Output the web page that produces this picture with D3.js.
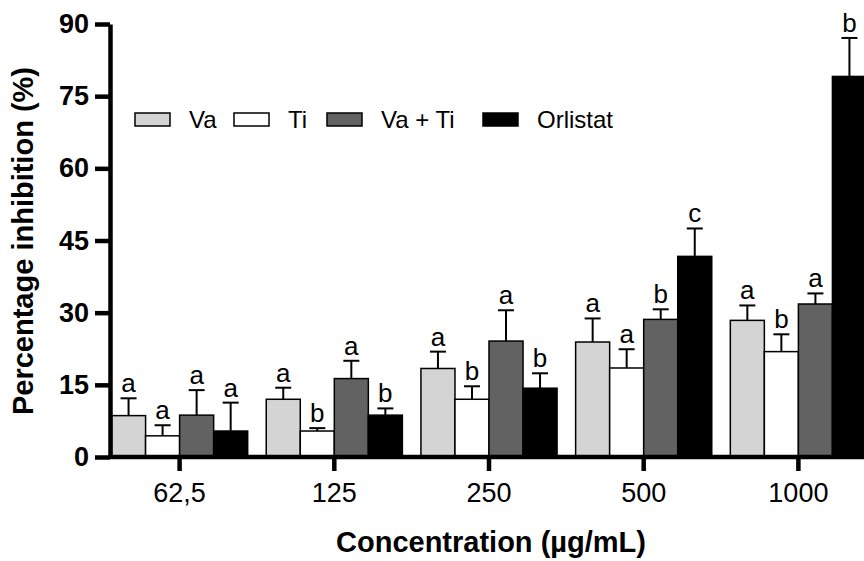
<!DOCTYPE html>
<html lang="en">
<head>
  <meta charset="UTF-8" />
  <title>Percentage inhibition</title>
  <style>
    body { margin: 0; background: #fff; }
    #container { width: 864px; height: 561px; }
    text { font-family: "Liberation Sans", Arial, sans-serif; }
  </style>
</head>
<body>
  <div id="container"></div>
  <script src="https://cdn.jsdelivr.net/npm/d3@7"></script>
  <script>
    // data
    const concentrations = ["62,5", "125", "250", "500", "1000"];
    const seriesNames = ["Va", "Ti", "Va + Ti", "Orlistat"];
    const vaMean = [8.6, 12.0, 18.4, 23.9, 28.4];
    const vaErr = [3.6, 2.4, 3.5, 4.9, 3.1];
    const tiMean = [4.4, 5.4, 12.0, 18.5, 21.9];
    const tiErr = [2.2, 0.6, 2.7, 3.9, 3.6];
    const vatiMean = [8.7, 16.3, 24.1, 28.6, 31.8];
    const vatiErr = [5.2, 3.7, 6.4, 2.1, 2.2];
    const orlMean = [5.4, 8.7, 14.3, 41.7, 79.1];
    const orlErr = [5.9, 1.4, 3.1, 5.8, 8.0];
    const vaLetters = ["a", "a", "a", "a", "a"];
    const tiLetters = ["a", "b", "b", "a", "b"];
    const vatiLetters = ["a", "a", "a", "b", "a"];
    const orlLetters = ["a", "b", "b", "c", "b"];
    const yTicks = [0, 15, 30, 45, 60, 75, 90];

    const fills = ["#d4d4d4", "#ffffff", "#626262", "#000000"];
    const means = [vaMean, tiMean, vatiMean, orlMean];
    const errs = [vaErr, tiErr, vatiErr, orlErr];
    const letters = [vaLetters, tiLetters, vatiLetters, orlLetters];

    const W = 864, H = 561;
    const svg = d3.select("#container").append("svg")
      .attr("width", W).attr("height", H);

    const y = d3.scaleLinear().domain([0, 90]).range([457, 24]);
    const x0 = d3.scaleBand().domain(concentrations)
      .range([110, 868]).paddingInner(0.12).paddingOuter(0.01);
    const x1 = d3.scaleBand().domain(seriesNames).range([0, x0.bandwidth()]);

    // flatten into rows for drawing
    let rows = [];
    concentrations.forEach((c, i) => {
      seriesNames.forEach((s, j) => {
        rows.push({ c: c, s: s, j: j, v: means[j][i], e: errs[j][i], l: letters[j][i] });
      });
    });

    const g = svg.append("g");
    // error bars (drawn first so bar covers the stem)
    g.selectAll(".err").data(rows).enter().append("line")
      .attr("x1", d => x0(d.c) + x1(d.s) + x1.bandwidth() / 2)
      .attr("x2", d => x0(d.c) + x1(d.s) + x1.bandwidth() / 2)
      .attr("y1", d => y(d.v))
      .attr("y2", d => y(d.v + d.e))
      .attr("stroke", "#000").attr("stroke-width", 2);
    g.selectAll(".cap").data(rows).enter().append("line")
      .attr("x1", d => x0(d.c) + x1(d.s) + x1.bandwidth() / 2 - 8)
      .attr("x2", d => x0(d.c) + x1(d.s) + x1.bandwidth() / 2 + 8)
      .attr("y1", d => y(d.v + d.e))
      .attr("y2", d => y(d.v + d.e))
      .attr("stroke", "#000").attr("stroke-width", 2);

    g.selectAll(".bar").data(rows).enter().append("rect")
      .attr("x", d => x0(d.c) + x1(d.s))
      .attr("y", d => y(d.v))
      .attr("width", x1.bandwidth())
      .attr("height", d => y(0) - y(d.v))
      .attr("fill", d => fills[d.j])
      .attr("stroke", "#000").attr("stroke-width", 1.5);

    g.selectAll(".sig").data(rows).enter().append("text")
      .attr("x", d => x0(d.c) + x1(d.s) + x1.bandwidth() / 2)
      .attr("y", d => y(d.v + d.e) - 6)
      .attr("text-anchor", "middle")
      .attr("font-size", 26)
      .text(d => d.l);

    // axes
    const yAxis = svg.append("g")
      .attr("transform", "translate(110,0)")
      .call(d3.axisLeft(y).tickValues(yTicks).tickSize(15).tickSizeOuter(0).tickPadding(6));
    yAxis.select(".domain").attr("stroke-width", 4.5);
    yAxis.selectAll(".tick line").attr("stroke-width", 4.5);
    yAxis.selectAll(".tick text")
      .attr("font-family", "Liberation Sans, Arial, sans-serif")
      .attr("font-size", 27).attr("font-weight", "bold").attr("fill", "#000");

    const xAxis = svg.append("g")
      .attr("transform", "translate(0,457)")
      .call(d3.axisBottom(x0).tickSize(14).tickSizeOuter(0).tickPadding(12));
    xAxis.select(".domain").attr("stroke-width", 4.5)
      .attr("d", "M108,0H" + W);
    xAxis.selectAll(".tick line").attr("stroke-width", 4.5);
    xAxis.selectAll(".tick text")
      .attr("font-family", "Liberation Sans, Arial, sans-serif")
      .attr("font-size", 27).attr("fill", "#000");

    // axis titles
    svg.append("text")
      .attr("x", 491).attr("y", 552)
      .attr("text-anchor", "middle")
      .attr("font-size", 29).attr("font-weight", "bold")
      .text("Concentration (µg/mL)");
    svg.append("text")
      .attr("transform", "translate(33,241) rotate(-90)")
      .attr("text-anchor", "middle")
      .attr("font-size", 29).attr("font-weight", "bold")
      .text("Percentage inhibition (%)");

    // legend
    const legendX = [135, 234, 327, 483];
    const lg = svg.append("g").selectAll("g").data(seriesNames).enter().append("g")
      .attr("transform", (d, i) => `translate(${legendX[i]},113)`);
    lg.append("rect")
      .attr("width", 35).attr("height", 13)
      .attr("fill", (d, i) => fills[i])
      .attr("stroke", "#000").attr("stroke-width", 1.5);
    lg.append("text")
      .attr("x", 54).attr("y", 15)
      .attr("font-size", 24)
      .text(d => d);
  </script>
</body>
</html>
